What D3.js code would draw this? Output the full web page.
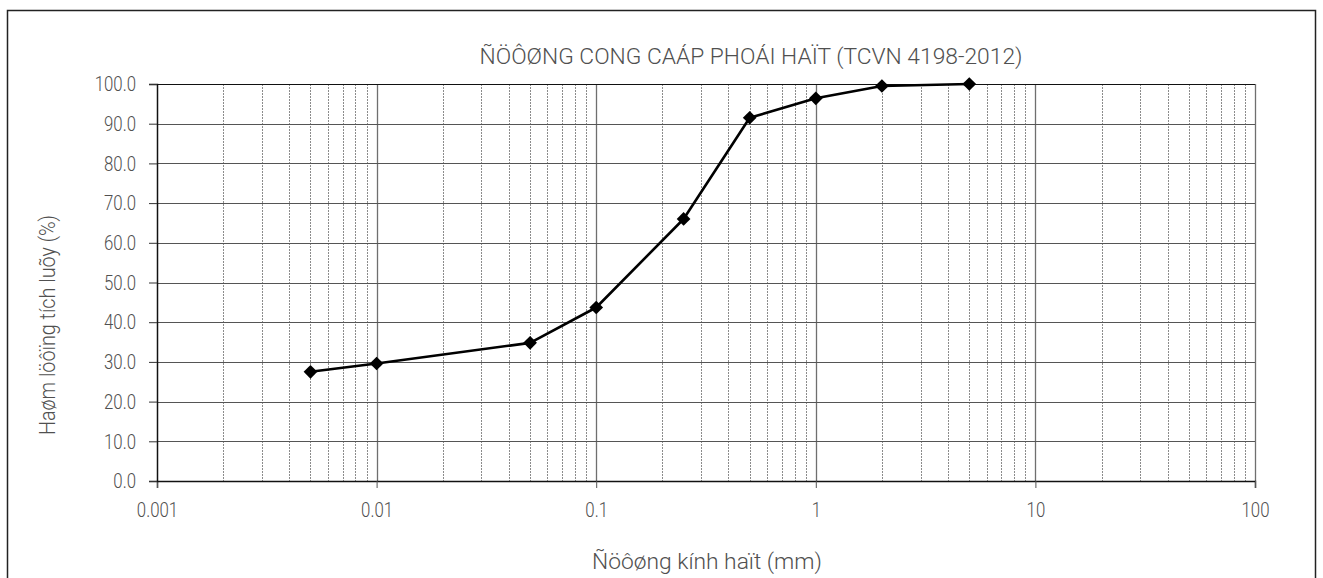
<!DOCTYPE html>
<html><head><meta charset="utf-8">
<script src="https://cdn.jsdelivr.net/npm/d3@7"></script>
<style>
html,body{margin:0;padding:0;background:#fff;}
svg text{font-family:Roboto,"Liberation Sans",Arial,sans-serif;font-weight:300;fill:#505050;}
</style></head>
<body>
<svg id="chart" width="1323" height="578"></svg>
<script>
const sizes = [0.005, 0.01, 0.05, 0.1, 0.25, 0.5, 1, 2, 5];
const passing = [27.5, 29.6, 34.8, 43.7, 66.0, 91.5, 96.4, 99.5, 100.0];
const xTickValues = [0.001, 0.01, 0.1, 1, 10, 100];
const xTickLabels = ["0.001", "0.01", "0.1", "1", "10", "100"];
const yTickValues = [0, 10, 20, 30, 40, 50, 60, 70, 80, 90, 100];
const titleText = "ÑÖÔØNG CONG CAÁP PHOÁI HAÏT (TCVN 4198-2012)";
const xTitle = "Ñöôøng kính haït (mm)";
const yTitle = "Haøm löôïng tích luõy (%)";

const svg = d3.select("#chart");
const m = {left:157, right:1255, top:84, bottom:481};

svg.append("rect").attr("x",7.5).attr("y",10.5).attr("width",1308).attr("height",600)
  .attr("fill","none").attr("stroke","#222").attr("stroke-width",1.5);

const x = d3.scaleLog().domain([0.001,100]).range([m.left,m.right]);
const y = d3.scaleLinear().domain([0,100]).range([m.bottom,m.top]);

// minor vertical gridlines
const minors = [];
for (let e=-3;e<2;e++){ for(let k=2;k<=9;k++){ minors.push(k*Math.pow(10,e)); } }
svg.append("g").selectAll("line").data(minors).join("line")
  .attr("x1",d=>Math.round(x(d))+0.5).attr("x2",d=>Math.round(x(d))+0.5)
  .attr("y1",m.top).attr("y2",m.bottom)
  .attr("stroke","#8c8c8c").attr("stroke-width",1).attr("stroke-dasharray","2,1");
// major vertical gridlines
svg.append("g").selectAll("line").data(xTickValues.slice(1)).join("line")
  .attr("x1",d=>Math.round(x(d))+0.5).attr("x2",d=>Math.round(x(d))+0.5)
  .attr("y1",m.top).attr("y2",m.bottom)
  .attr("stroke","#6f6f6f").attr("stroke-width",1.3);
// horizontal gridlines
svg.append("g").selectAll("line").data(yTickValues.slice(1)).join("line")
  .attr("x1",m.left).attr("x2",m.right)
  .attr("y1",d=>Math.round(y(d))+0.5).attr("y2",d=>Math.round(y(d))+0.5)
  .attr("stroke",d=>d===100?"#111":"#555").attr("stroke-width",1.2);

// axes
const xAxis = svg.append("g").attr("transform",`translate(0,${m.bottom})`)
  .call(d3.axisBottom(x).tickValues(xTickValues).tickFormat((d,i)=>xTickLabels[i]).tickSizeOuter(0).tickSize(7).tickPadding(14));
xAxis.select(".domain").attr("stroke","#111").attr("stroke-width",1.5);
xAxis.selectAll(".tick line").attr("stroke","#555");
xAxis.selectAll("text").attr("font-size","21px").attr("fill",null).attr("font-family",null);

const yAxis = svg.append("g").attr("transform",`translate(${m.left},0)`)
  .call(d3.axisLeft(y).tickValues(yTickValues).tickFormat(d3.format(".1f")).tickSizeOuter(0).tickSize(8).tickPadding(13));
yAxis.select(".domain").attr("stroke","#111").attr("stroke-width",1.5);
yAxis.selectAll(".tick line").attr("stroke","#333");
yAxis.selectAll("text").attr("font-size","21px").attr("fill",null).attr("font-family",null);

// series
const data = sizes.map((s,i)=>({s, p:passing[i]}));
svg.append("path").datum(data)
  .attr("d", d3.line().x(d=>x(d.s)).y(d=>y(d.p)))
  .attr("fill","none").attr("stroke","#000").attr("stroke-width",2.6).attr("stroke-linejoin","round");
svg.append("g").selectAll("path").data(data).join("path")
  .attr("transform",d=>`translate(${x(d.s)},${y(d.p)})`)
  .attr("d", d3.symbol(d3.symbolDiamond2, 120)())
  .attr("fill","#000");

// titles
svg.append("text").attr("x",751).attr("y",64).attr("text-anchor","middle")
  .attr("font-size","22px").attr("class","title").text(titleText);
svg.append("text").attr("x",707).attr("y",569).attr("text-anchor","middle")
  .attr("font-size","22px").attr("class","xt").text(xTitle);
svg.append("text").attr("transform","translate(55,325) rotate(-90)").attr("text-anchor","middle")
  .attr("font-size","22px").attr("class","yt").text(yTitle);

// condense glyphs horizontally to match the narrow face of the original
function condense(sel, f){
  sel.each(function(){
    const w = this.getComputedTextLength();
    d3.select(this).attr("textLength", w*f).attr("lengthAdjust","spacingAndGlyphs");
  });
}
condense(svg.selectAll(".tick text"), 0.8);
function fitTo(sel, target){
  sel.attr("textLength", target).attr("lengthAdjust","spacingAndGlyphs");
}
fitTo(svg.select(".title"), 543);
fitTo(svg.select(".xt"), 230);
fitTo(svg.select(".yt"), 220);
</script>
</body></html>
